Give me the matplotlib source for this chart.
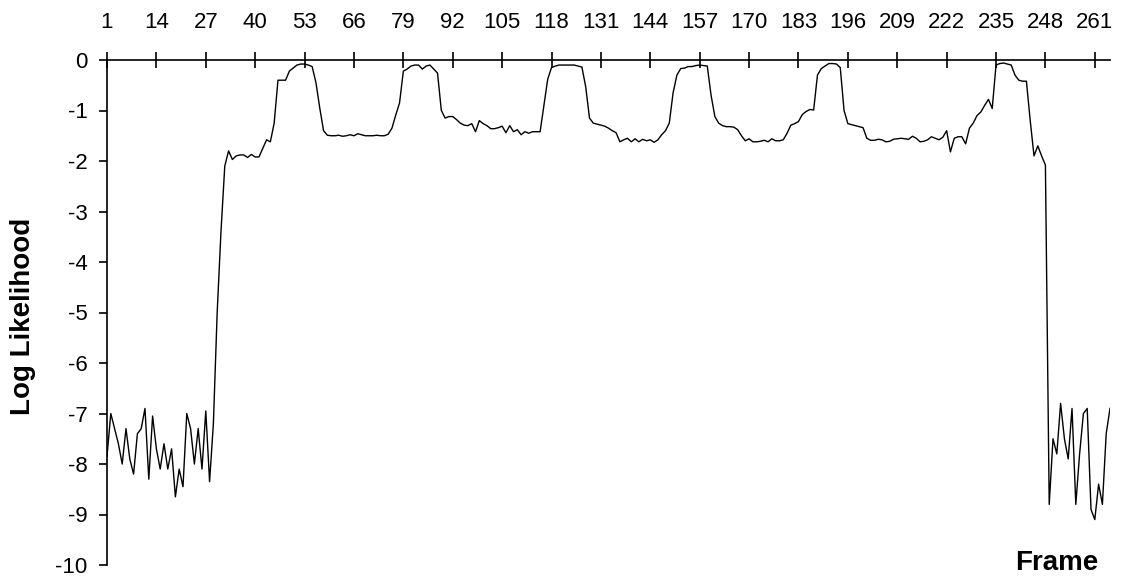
import numpy as np
import matplotlib
matplotlib.use('Agg')
from matplotlib import pyplot as plt

plt.rcParams['font.family'] = ['Liberation Sans', 'DejaVu Sans']
plt.rcParams['axes.unicode_minus'] = False

# log likelihood per frame: leading silence, speech, trailing silence
silence_head = [
    -7.85, -7.0, -7.3, -7.6, -8.0, -7.3, -7.9, -8.2, -7.4, -7.3,
    -6.9, -8.3, -7.05, -7.7, -8.1, -7.6, -8.1, -7.7, -8.65, -8.1,
    -8.45, -7.0, -7.3, -8.0, -7.3, -8.1, -6.95, -8.35, -7.2,
]
speech = [
    -5.0, -3.4, -2.1, -1.80, -1.97, -1.90, -1.88, -1.88, -1.93, -1.87,
    -1.92, -1.92, -1.75, -1.58, -1.62, -1.25, -0.40, -0.40, -0.40, -0.22,
    -0.16, -0.10, -0.08, -0.08, -0.10, -0.13, -0.45, -0.95, -1.40, -1.49,
    -1.50, -1.50, -1.49, -1.51, -1.50, -1.48, -1.50, -1.46, -1.48, -1.50,
    -1.50, -1.50, -1.49, -1.50, -1.50, -1.47, -1.35, -1.09, -0.85, -0.22,
    -0.18, -0.12, -0.10, -0.10, -0.18, -0.12, -0.10, -0.18, -0.26, -1.00,
    -1.15, -1.12, -1.12, -1.18, -1.25, -1.29, -1.30, -1.26, -1.42, -1.20,
    -1.26, -1.30, -1.36, -1.36, -1.34, -1.31, -1.44, -1.30, -1.42, -1.38,
    -1.48, -1.42, -1.45, -1.42, -1.42, -1.42, -0.90, -0.38, -0.15, -0.12,
    -0.10, -0.10, -0.10, -0.10, -0.10, -0.12, -0.14, -0.53, -1.15, -1.25,
    -1.27, -1.29, -1.31, -1.35, -1.40, -1.44, -1.62, -1.58, -1.55, -1.62,
    -1.56, -1.62, -1.57, -1.60, -1.58, -1.63, -1.58, -1.48, -1.40, -1.25,
    -0.65, -0.30, -0.17, -0.16, -0.13, -0.13, -0.11, -0.10, -0.11, -0.12,
    -0.70, -1.12, -1.25, -1.30, -1.32, -1.32, -1.33, -1.38, -1.50, -1.60,
    -1.56, -1.62, -1.62, -1.61, -1.59, -1.62, -1.56, -1.60, -1.60, -1.58,
    -1.45, -1.29, -1.26, -1.22, -1.08, -1.02, -0.98, -0.99, -0.30, -0.17,
    -0.12, -0.07, -0.07, -0.08, -0.15, -1.00, -1.26, -1.28, -1.30, -1.32,
    -1.34, -1.55, -1.59, -1.59, -1.57, -1.58, -1.62, -1.61, -1.57, -1.56,
    -1.55, -1.56, -1.57, -1.51, -1.55, -1.62, -1.61, -1.58, -1.52, -1.55,
    -1.58, -1.53, -1.40, -1.82, -1.55, -1.52, -1.52, -1.66, -1.35, -1.25,
    -1.10, -1.03, -0.90, -0.78, -0.96, -0.10, -0.07, -0.06, -0.08, -0.10,
    -0.30, -0.40, -0.42, -0.42, -1.20, -1.90, -1.70, -1.90, -2.08,
]
silence_tail = [
    -8.8, -7.5, -7.8, -6.8, -7.5, -7.9, -6.9, -8.8, -7.8, -7.0,
    -6.9, -8.9, -9.1, -8.4, -8.8, -7.4, -6.9,
]

log_likelihood = silence_head + speech + silence_tail
frames = np.arange(1, len(log_likelihood) + 1)
frame_ticks = np.arange(1, 262, 13)
level_ticks = np.arange(-10, 1)

fig = plt.figure(figsize=(11.25, 5.78), dpi=100)
ax = fig.add_axes([107 / 1125, 1 - 565 / 578, (1110 - 107) / 1125, (565 - 60) / 578])
ax.plot(frames, log_likelihood, color='black', lw=1.0)

ax.set_xlim(1, frames[-1])
ax.set_ylim(-10, 0)
ax.xaxis.tick_top()
ax.set_xticks(frame_ticks)
ax.set_yticks(level_ticks)

for side in ('right', 'bottom'):
    ax.spines[side].set_visible(False)
ax.spines['top'].set_linewidth(1.2)
ax.spines['left'].set_linewidth(1.2)
ax.tick_params(axis='x', direction='inout', length=11, width=1.2, pad=14, labelsize=16)
ax.tick_params(axis='y', direction='out', length=6, width=1.2, pad=8, labelsize=16)

fig.text(23 / 1125, 1 - 316 / 578, 'Log Likelihood', rotation=90,
         ha='center', va='center', fontsize=20, fontweight='bold')
fig.text(1057 / 1125, 1 - 570 / 578, 'Frame', ha='center', va='baseline',
         fontsize=20, fontweight='bold')

fig.savefig('out.png', dpi=100)
